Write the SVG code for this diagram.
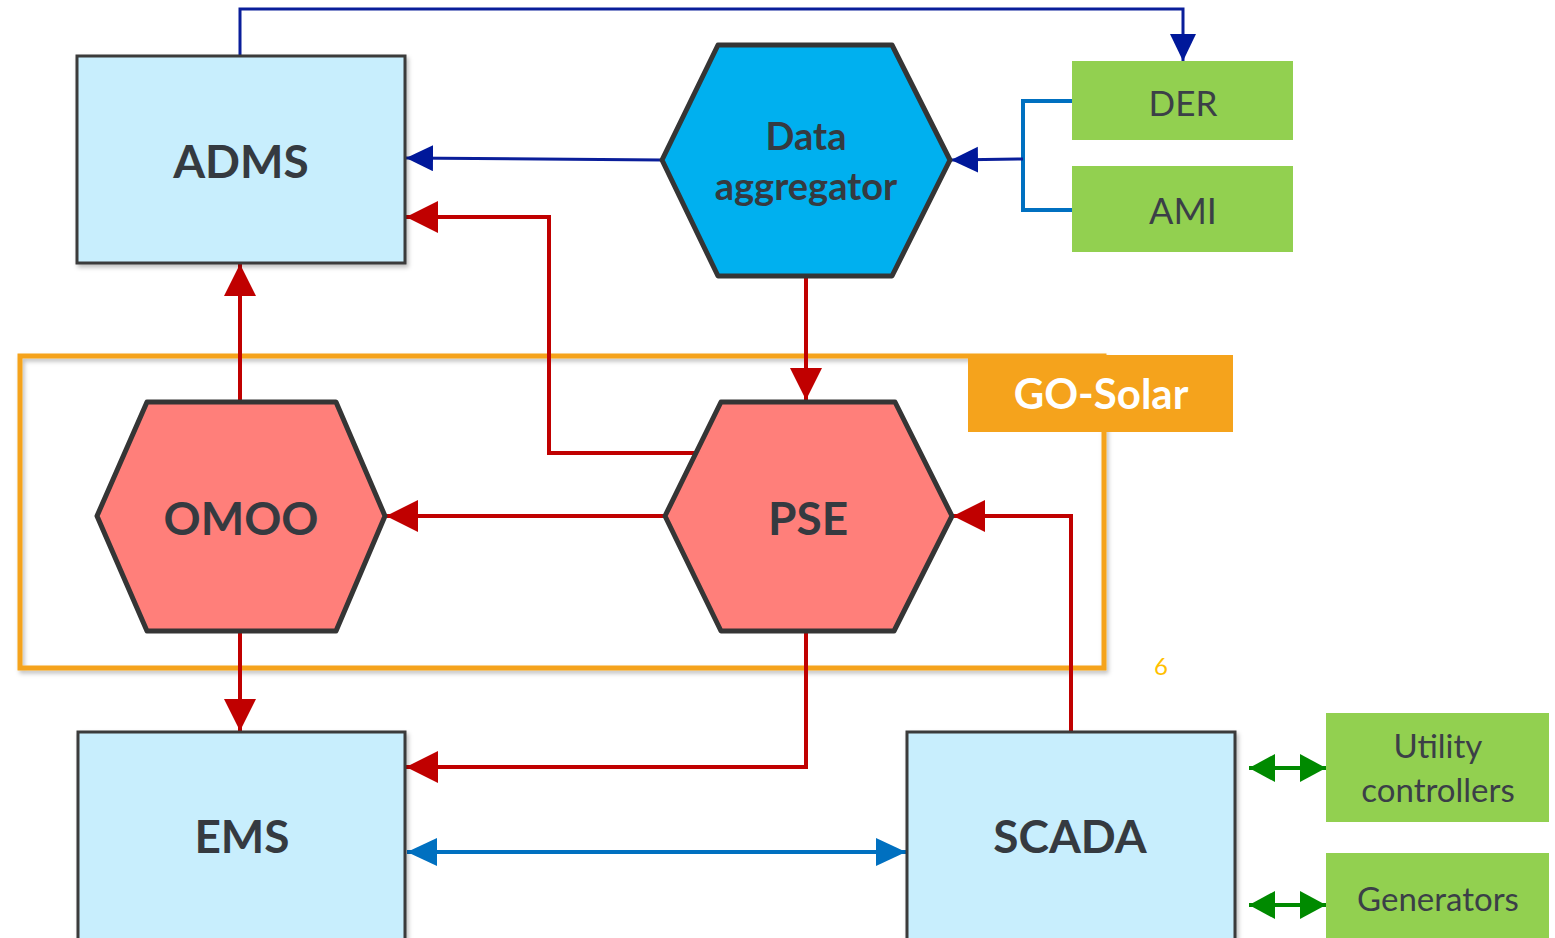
<svg xmlns="http://www.w3.org/2000/svg" width="1555" height="938" viewBox="0 0 1555 938">
<style>
.box{fill:#c8eefd;stroke:#3a3a3a;stroke-width:3;filter:url(#sh)}
.hexr{fill:#ff7f7a;stroke:#353535;stroke-width:5;stroke-linejoin:round}
.hexb{fill:#00b0ef;stroke:#353535;stroke-width:5;stroke-linejoin:round}
.grn{fill:#92d050}
.lbl{font-family:Lato,"Open Sans",sans-serif;font-weight:bold;fill:#353a40;text-anchor:middle}
.glbl{font-family:Lato,"Open Sans",sans-serif;fill:#3b3f47;text-anchor:middle}
.red{fill:none;stroke:#c00000;stroke-width:4}
.dblue{fill:none;stroke:#0a1e9a;stroke-width:3}
.lblue{fill:none;stroke:#0070c0;stroke-width:4}
.green{fill:none;stroke:#008a00;stroke-width:4}
</style>
<defs>
<filter id="sh" x="-5%" y="-5%" width="115%" height="115%">
<feDropShadow dx="2" dy="3" stdDeviation="2" flood-color="#000" flood-opacity="0.25"/>
</filter>
<marker id="ar" markerUnits="userSpaceOnUse" markerWidth="34" markerHeight="34" refX="32" refY="16" orient="auto"><path d="M0,0 L32,16 L0,32 z" fill="#c00000"/></marker>
<marker id="ad" markerUnits="userSpaceOnUse" markerWidth="30" markerHeight="30" refX="27" refY="13" orient="auto"><path d="M0,0 L27,13 L0,26 z" fill="#00189a"/></marker>
<marker id="alE" markerUnits="userSpaceOnUse" markerWidth="32" markerHeight="32" refX="30" refY="14" orient="auto"><path d="M0,0 L30,14 L0,28 z" fill="#0070c0"/></marker>
<marker id="alS" markerUnits="userSpaceOnUse" markerWidth="32" markerHeight="32" refX="0" refY="14" orient="auto"><path d="M30,0 L0,14 L30,28 z" fill="#0070c0"/></marker>
<marker id="agE" markerUnits="userSpaceOnUse" markerWidth="30" markerHeight="30" refX="26" refY="14" orient="auto"><path d="M0,0 L26,14 L0,28 z" fill="#008a00"/></marker>
<marker id="agS" markerUnits="userSpaceOnUse" markerWidth="30" markerHeight="30" refX="0" refY="14" orient="auto"><path d="M26,0 L0,14 L26,28 z" fill="#008a00"/></marker>
</defs>

<g id="go-solar-frame">
<rect x="20" y="356" width="1084" height="312" fill="none" stroke="#f5a31c" stroke-width="5" filter="url(#sh)"/>
</g>

<g id="connectors">
<path class="dblue" d="M240,56 V9 H1183 V61" marker-end="url(#ad)"/>
<path class="dblue" d="M662,160 L406,158" marker-end="url(#ad)"/>
<path class="lblue" d="M1072,101 H1023 V210 H1072"/>
<path class="dblue" d="M1023,159 L951,160" marker-end="url(#ad)"/>
<path class="red" d="M697,453 H549 V217 H406" marker-end="url(#ar)"/>
<path class="red" d="M240,402 V264" marker-end="url(#ar)"/>
<path class="red" d="M806,277 V400" marker-end="url(#ar)"/>
<path class="red" d="M665,516 H386" marker-end="url(#ar)"/>
<path class="red" d="M240,631 V731" marker-end="url(#ar)"/>
<path class="red" d="M806,631 V767 H406" marker-end="url(#ar)"/>
<path class="red" d="M1071,732 V516 H953" marker-end="url(#ar)"/>
<path class="lblue" d="M407,852 H906" marker-start="url(#alS)" marker-end="url(#alE)"/>
<path class="green" d="M1249,768 H1326" marker-start="url(#agS)" marker-end="url(#agE)"/>
<path class="green" d="M1249,905 H1326" marker-start="url(#agS)" marker-end="url(#agE)"/>
</g>

<g id="go-solar-label">
<rect x="968" y="355" width="265" height="77" fill="#f5a31c"/>
<text x="1101" y="409" font-family="Lato,'Open Sans',sans-serif" font-weight="bold" font-size="42" fill="#ffffff" text-anchor="middle">GO-Solar</text>
</g>

<g id="adms">
<rect class="box" x="77" y="56" width="328" height="207"/>
<text class="lbl" x="241" y="178" font-size="46">ADMS</text>
</g>

<g id="data-aggregator">
<polygon class="hexb" points="718,45 892,45 950,160 892,276 718,276 662,160"/>
<text class="lbl" x="806" y="150" font-size="38">Data</text>
<text class="lbl" x="806" y="200" font-size="38">aggregator</text>
</g>

<g id="der">
<rect class="grn" x="1072" y="61" width="221" height="79"/>
<text class="glbl" x="1183" y="116" font-size="35">DER</text>
</g>

<g id="ami">
<rect class="grn" x="1072" y="166" width="221" height="86"/>
<text class="glbl" x="1183" y="224" font-size="36">AMI</text>
</g>

<g id="omoo">
<polygon class="hexr" points="147,402 336,402 385,516 336,631 147,631 97,516"/>
<text class="lbl" x="241" y="535" font-size="46">OMOO</text>
</g>

<g id="pse">
<polygon class="hexr" points="721,402 895,402 952,516 894,631 721,631 665,516"/>
<text class="lbl" x="808" y="535" font-size="46">PSE</text>
</g>

<g id="page-number">
<text x="1161" y="675" font-family="Lato,'Open Sans',sans-serif" font-size="24" fill="#ffc000" text-anchor="middle">6</text>
</g>

<g id="ems">
<rect class="box" x="78" y="732" width="327" height="210"/>
<text class="lbl" x="242" y="853" font-size="46">EMS</text>
</g>

<g id="scada">
<rect class="box" x="907" y="732" width="328" height="210"/>
<text class="lbl" x="1070" y="853" font-size="46">SCADA</text>
</g>

<g id="utility-controllers">
<rect class="grn" x="1326" y="713" width="223" height="109"/>
<text class="glbl" x="1438" y="758" font-size="33">Utility</text>
<text class="glbl" x="1438" y="802" font-size="33">controllers</text>
</g>

<g id="generators">
<rect class="grn" x="1326" y="853" width="223" height="90"/>
<text class="glbl" x="1438" y="911" font-size="33">Generators</text>
</g>
</svg>
